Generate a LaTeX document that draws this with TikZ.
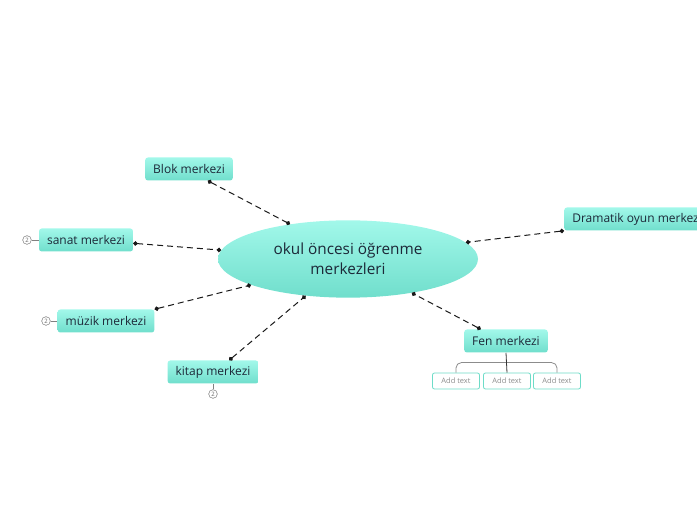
\documentclass[tikz,border=0pt]{standalone}
\usepackage{fontspec}
\setmainfont{Open Sans}
\usepackage{tikz}
\usetikzlibrary{positioning,calc,arrows.meta,shapes.geometric}
\definecolor{MintTop}{RGB}{162,248,234}
\definecolor{MintBot}{RGB}{112,222,204}
\definecolor{MintEdge}{RGB}{110,220,200}
\definecolor{InkBlue}{RGB}{28,40,56}
\tikzset{
  root/.style={ellipse,top color=MintTop,bottom color=MintBot,draw=none,
    minimum width=195pt,minimum height=58pt,align=center,text=InkBlue,
    font=\fontsize{11.5}{15}\selectfont},
  topic/.style={rounded corners=2pt,top color=MintTop,bottom color=MintBot,draw=none,
    minimum height=17.25pt,inner xsep=6pt,text=InkBlue,font=\fontsize{9}{10}\selectfont},
  leaf/.style={draw=MintEdge,fill=white,rounded corners=1.5pt,line width=0.6pt,
    minimum width=35.25pt,minimum height=12pt,inner sep=0pt,text=black!45,
    font=\fontsize{5.6}{6}\selectfont},
  badge/.style={circle,draw=black!50,fill=white,inner sep=0pt,minimum size=6.5pt,
    line width=0.4pt,text=black!60,font=\fontsize{4.5}{5}\selectfont},
  dashedge/.style={draw=black!90,line width=0.75pt,dash pattern=on 4.5pt off 3pt,
    {Circle[length=3.3pt]}-{Circle[length=3.3pt]}},
  stub/.style={draw=black!50,line width=0.5pt},
  brace/.style={draw=black!45,line width=0.6pt,rounded corners=4pt},
}
\begin{document}
\begin{tikzpicture}[x=0.75pt,y=-0.75pt]
    \useasboundingbox (0,0) rectangle (697,520);
    \node[root] (root) at (348,259) {okul öncesi öğrenme\\merkezleri};
    \node[topic] (blok) at (189,169) {Blok merkezi};
    \node[topic] (sanat) at (86,240) {sanat merkezi};
    \node[topic] (muzik) at (106,321) {müzik merkezi};
    \node[topic] (kitap) at (213,372) {kitap merkezi};
    \node[topic] (fen) at (506,341) {Fen merkezi};
    \node[topic,anchor=west] (dram) at (564,219) {Dramatik oyun merkezi};
    \foreach \n/\a/\b in {blok/-32/149,sanat/-4/176,muzik/north east/195,kitap/36/221,fen/155/332,dram/south west/8} {\draw[dashedge] (\n.\a)--(root.\b);}
    % small counters
    \node[badge] (b1) at (27,240) {2};
    \node[badge] (b2) at (46,321) {2};
    \node[badge] (b3) at (213,394) {2};
    \draw[stub] (b1)--(sanat);
    \draw[stub] (b2)--(muzik);
    \draw[stub] (b3)--(kitap);
    % sub topics of Fen
    \foreach \i/\x in {1/456,2/507,3/557} {\node[leaf] (l\i) at (\x,381) {Add text};}
    \draw[brace] (l1.north) -- ([yshift=7.5pt]l1.north) -| (l3.north);
    \draw[draw=black!80,line width=0.6pt] (fen.south) -- (l2.north);
  \end{tikzpicture}
\end{document}
